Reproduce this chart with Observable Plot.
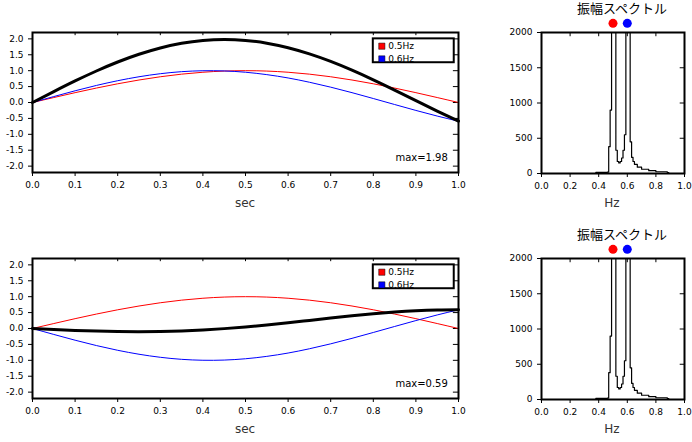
<!DOCTYPE html>
<html><head><meta charset="utf-8">
<script src="https://cdn.jsdelivr.net/npm/d3@7"></script>
<script src="https://cdn.jsdelivr.net/npm/@observablehq/plot@0.6"></script>
<style>
body{margin:0;background:#fff;font-family:"DejaVu Sans",sans-serif}
#c{position:relative;width:692px;height:442px}
#c>div{position:absolute}
.t{position:absolute;font:13px "Noto Sans CJK JP";line-height:16px}
.l{position:absolute;font:12px "DejaVu Sans";color:#333;transform:translateX(-50%)}
</style></head><body><div id="c"></div>
<script>
const t = [0,0.05,0.1,0.15,0.2,0.25,0.3,0.35,0.4,0.45,0.5,0.55,0.6,0.65,0.7,0.75,0.8,0.85,0.9,0.95,1.0];
const red = [0,.156,.309,.454,.588,.707,.809,.891,.951,.988,1,.988,.951,.891,.809,.707,.588,.454,.309,.156,0];
const blueTop = [0,.187,.368,.536,.685,.809,.905,.969,.998,.992,.951,.876,.771,.637,.482,.309,.125,-.063,-.249,-.426,-.588];
const sumTop = [0,.343,.677,.990,1.273,1.516,1.714,1.860,1.949,1.980,1.951,1.864,1.722,1.528,1.291,1.016,.713,.391,.060,-.270,-.588];
const blueBot = [0,-.187,-.368,-.536,-.685,-.809,-.905,-.969,-.998,-.992,-.951,-.876,-.771,-.637,-.482,-.309,-.125,.063,.249,.426,.588];
const sumBot = [0,-.031,-.059,-.082,-.097,-.102,-.096,-.078,-.047,-.004,.049,.112,.180,.254,.327,.398,.463,.517,.558,.582,.588];
const freq = [0,0.37,0.38,0.46,0.47,0.48,0.49,0.5,0.51,0.52,0.53,0.54,0.55,0.56,0.57,0.58,0.59,0.6,0.61,0.62,0.63,0.64,0.65,0.67,0.7,0.75,0.8,0.88,0.89,1.0];
const amp  = [0,0,15,20,380,900,5000,8000,5000,330,170,150,170,220,330,550,5000,8000,5000,450,230,170,130,90,60,40,25,12,0,0];
const maxLabels = ["max=1.98","max=0.59"];
const legendLabels = ["0.5Hz","0.6Hz"];
const peakHz = [0.5,0.6];
const peakColors = ["#ff0000","#0000ff"];

const c = document.getElementById("c");
function addLabel(text,x,y){const l=document.createElement("div");l.className="l";l.textContent=text;l.style.left=x+"px";l.style.top=y+"px";c.appendChild(l);}
function wave(top, blue, sum, maxLabel){
  const rows = t.map((x,i)=>({t:x,r:red[i],b:blue[i],s:sum[i]}));
  const p = Plot.plot({
    width:470,height:215,marginLeft:32,marginRight:12,marginTop:32,marginBottom:43,
    style:{font:"9px 'DejaVu Sans'",color:"#000"},
    x:{domain:[0,1],ticks:d3.range(0,1.01,0.1),tickFormat:d=>d.toFixed(1),label:null,tickSize:4},
    y:{domain:[-2.2,2.2],ticks:d3.range(-2,2.01,0.5),tickFormat:d=>d.toFixed(1),label:null,tickSize:4},
    marks:[
      Plot.ruleY(d3.range(-2,2.01,0.5),{y:d=>d,x1:0.988,x2:1,stroke:"#000"}),
      Plot.ruleX(d3.range(0,1.01,0.1),{x:d=>d,y1:2.1,y2:2.2,stroke:"#000"}),
      Plot.line(rows,{x:"t",y:"r",stroke:"#ff0000",strokeWidth:1,curve:"natural"}),
      Plot.line(rows,{x:"t",y:"b",stroke:"#0000ff",strokeWidth:1,curve:"natural"}),
      Plot.line(rows,{x:"t",y:"s",stroke:"#000",strokeWidth:3,curve:"natural"}),
      Plot.rect([0],{x1:0.8,x2:0.99,y1:1.25,y2:2.0,fill:"#fff",stroke:"#000",strokeWidth:2}),
      Plot.dot(legendLabels,{x:0.82,y:(d,i)=>1.77-i*0.4,symbol:"square",r:3.5,fill:(d,i)=>peakColors[i],stroke:"#000",strokeWidth:0.5}),
      Plot.text(legendLabels,{x:0.835,y:(d,i)=>1.77-i*0.4,text:d=>d,textAnchor:"start",fontSize:9}),
      Plot.text([maxLabel],{x:0.975,y:-1.75,text:d=>d,textAnchor:"end",fontSize:10}),
      Plot.frame({stroke:"#000",strokeWidth:2})
    ]
  });
  const d=document.createElement("div");d.style.left="0px";d.style.top=top+"px";d.appendChild(p);c.appendChild(d);
  addLabel("sec",245,top+196);
}
function spec(top){
  const rows = freq.map((f,i)=>({f,a:amp[i]}));
  const p = Plot.plot({
    width:192,height:215,marginLeft:41,marginRight:8,marginTop:32,marginBottom:42,
    style:{font:"9px 'DejaVu Sans'",color:"#000",overflow:"visible"},
    x:{domain:[0,1],ticks:d3.range(0,1.01,0.2),tickFormat:d=>d.toFixed(1),label:null,tickSize:4},
    y:{domain:[0,2000],ticks:[0,500,1000,1500,2000],tickFormat:d=>String(d),label:null,tickSize:4},
    marks:[
      Plot.line(rows,{x:"f",y:"a",stroke:"#000",strokeWidth:1.2,curve:"step-after",clip:true}),
      Plot.ruleY([0,500,1000,1500,2000],{y:d=>d,x1:0.97,x2:1,stroke:"#000"}),
      Plot.ruleX(d3.range(0,1.01,0.2),{x:d=>d,y1:1940,y2:2000,stroke:"#000"}),
      Plot.dot(peakHz,{x:d=>d,y:2130,r:4.5,fill:(d,i)=>peakColors[i]}),
      Plot.frame({stroke:"#000",strokeWidth:2})
    ]
  });
  const d=document.createElement("div");d.style.left="500px";d.style.top=top+"px";d.appendChild(p);c.appendChild(d);
  addLabel("Hz",612,top+196);
  const tt=document.createElement("div");tt.className="t";tt.textContent="振幅スペクトル";
  tt.style.left="577px";tt.style.top=(top+0)+"px";c.appendChild(tt);
}
wave(0,blueTop,sumTop,maxLabels[0]);
spec(0);
wave(226,blueBot,sumBot,maxLabels[1]);
spec(226);
</script></body></html>
